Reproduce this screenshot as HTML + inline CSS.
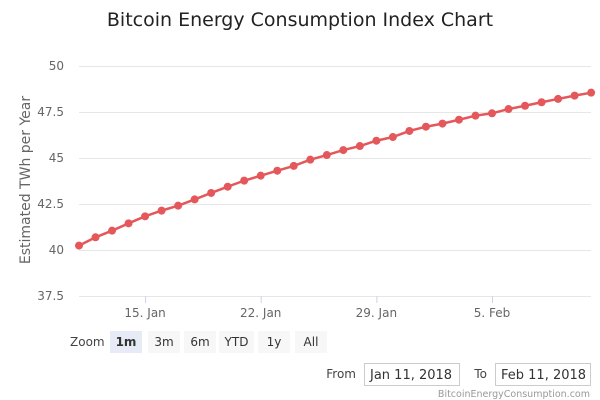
<!DOCTYPE html>
<html><head><meta charset="utf-8"><style>
body{margin:0;width:600px;height:400px;background:#fff;font-family:"Liberation Sans","DejaVu Sans",sans-serif;overflow:hidden}
svg{position:absolute;left:0;top:0}
</style></head><body>
<svg width="600" height="400">
<text x="300" y="26" text-anchor="middle" font-size="19" fill="#222" font-family="DejaVu Sans, sans-serif">Bitcoin Energy Consumption Index Chart</text>
<g id="grid"></g><g id="series"></g>
<text transform="translate(30,180) rotate(-90)" text-anchor="middle" font-size="14" fill="#666" font-family="DejaVu Sans, sans-serif">Estimated TWh per Year</text>
<text x="70" y="346" font-size="12" fill="#444" font-family="DejaVu Sans, sans-serif">Zoom</text>
<g id="buttons" font-family="DejaVu Sans, sans-serif" font-size="12"></g>
<text x="356" y="378" text-anchor="end" font-size="12" fill="#444" font-family="DejaVu Sans, sans-serif">From</text>
<rect x="364.5" y="363.5" width="95" height="22" fill="#fff" stroke="#ccc"/>
<text x="370" y="379" font-size="13" fill="#333" font-family="DejaVu Sans, sans-serif">Jan 11, 2018</text>
<text x="487" y="378" text-anchor="end" font-size="12" fill="#444" font-family="DejaVu Sans, sans-serif">To</text>
<rect x="495.5" y="363.5" width="95" height="22" fill="#fff" stroke="#ccc"/>
<text x="501" y="379" font-size="13" fill="#333" font-family="DejaVu Sans, sans-serif">Feb 11, 2018</text>
<text x="590" y="397" text-anchor="end" font-size="9.5" fill="#999" font-family="DejaVu Sans, sans-serif">BitcoinEnergyConsumption.com</text>
</svg>
<script>
const values=[40.24,40.69,41.05,41.45,41.83,42.14,42.41,42.75,43.10,43.44,43.77,44.04,44.31,44.57,44.91,45.16,45.43,45.65,45.94,46.14,46.47,46.70,46.87,47.08,47.30,47.43,47.66,47.84,48.03,48.21,48.39,48.55];
const yTicks=[37.5,40,42.5,45,47.5,50];
const yTickLabels=["37.5","40","42.5","45","47.5","50"];
const xTickDays=[4,11,18,25];
const xTickLabels=["15. Jan","22. Jan","29. Jan","5. Feb"];
const buttonLabels=["1m","3m","6m","YTD","1y","All"];
const NS="http://www.w3.org/2000/svg";
const x=d=>79+d*16.52, y=v=>296-(v-37.5)*18.4;
function mk(t,a,p){const e=document.createElementNS(NS,t);for(const k in a)e.setAttribute(k,a[k]);p.appendChild(e);return e;}
const grid=document.getElementById('grid'),ser=document.getElementById('series');
yTicks.forEach((v,i)=>{
 const l=mk('line',{x1:79,x2:591,y1:y(v)+.5,y2:y(v)+.5,stroke:'#e6e6e6'},grid);
 
 
 const t=mk('text',{x:64,y:y(v)+4,'text-anchor':'end','font-size':12,fill:'#666','font-family':'DejaVu Sans, sans-serif'},grid);
 t.textContent=yTickLabels[i];
 
 
});
xTickDays.forEach((d,i)=>{
 const l=mk('line',{x1:x(d)+.5,x2:x(d)+.5,y1:296,y2:303,stroke:'#ccd6eb'},grid);
 
 
 const t=mk('text',{x:x(d),y:317,'text-anchor':'middle','font-size':12,fill:'#666','font-family':'DejaVu Sans, sans-serif'},grid);
 t.textContent=xTickLabels[i];
 
 
});
const pl=mk('polyline',{points:values.map((v,i)=>x(i)+','+y(v)).join(' '),fill:'none',stroke:'#e4575a','stroke-width':2.5},ser);


values.forEach((v,i)=>{
 const c=mk('circle',{cx:x(i),cy:y(v),r:4,fill:'#e4575a'},ser);
 
 
});
const bx=[110,148,184,219,258,295],bw=[32,32,32,35,32,32];
const bg=document.getElementById('buttons');
buttonLabels.forEach((b,i)=>{
 const r=mk('rect',{x:bx[i],y:331,width:bw[i],height:22,fill:i==0?'#e6ebf5':'#f7f7f7'},bg);
 
 
 const t=mk('text',{x:bx[i]+bw[i]/2,y:346,'text-anchor':'middle',fill:'#333','font-weight':i==0?'bold':'normal'},bg);
 t.textContent=b;
 
 
});
</script>
</body></html>
